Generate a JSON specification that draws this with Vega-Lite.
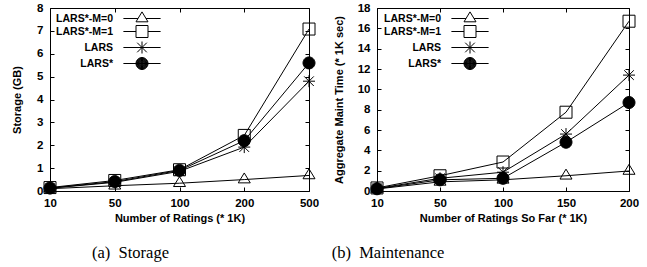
{
  "$schema": "https://vega.github.io/schema/vega-lite/v6.json",
  "background": "white",
  "padding": {"left": 11, "top": 1, "right": 5, "bottom": 5},
  "datasets": {
    "storage": [
      {"ratings": "10", "value": 0.10, "method": "LARS*-M=0"},
      {"ratings": "50", "value": 0.23, "method": "LARS*-M=0"},
      {"ratings": "100", "value": 0.34, "method": "LARS*-M=0"},
      {"ratings": "200", "value": 0.50, "method": "LARS*-M=0"},
      {"ratings": "500", "value": 0.68, "method": "LARS*-M=0"},
      {"ratings": "10", "value": 0.15, "method": "LARS*-M=1"},
      {"ratings": "50", "value": 0.46, "method": "LARS*-M=1"},
      {"ratings": "100", "value": 0.93, "method": "LARS*-M=1"},
      {"ratings": "200", "value": 2.43, "method": "LARS*-M=1"},
      {"ratings": "500", "value": 7.08, "method": "LARS*-M=1"},
      {"ratings": "10", "value": 0.12, "method": "LARS"},
      {"ratings": "50", "value": 0.38, "method": "LARS"},
      {"ratings": "100", "value": 0.86, "method": "LARS"},
      {"ratings": "200", "value": 1.92, "method": "LARS"},
      {"ratings": "500", "value": 4.80, "method": "LARS"},
      {"ratings": "10", "value": 0.13, "method": "LARS*"},
      {"ratings": "50", "value": 0.41, "method": "LARS*"},
      {"ratings": "100", "value": 0.90, "method": "LARS*"},
      {"ratings": "200", "value": 2.20, "method": "LARS*"},
      {"ratings": "500", "value": 5.60, "method": "LARS*"}
    ],
    "maintenance": [
      {"ratings": "10", "value": 0.20, "method": "LARS*-M=0"},
      {"ratings": "50", "value": 0.90, "method": "LARS*-M=0"},
      {"ratings": "100", "value": 1.10, "method": "LARS*-M=0"},
      {"ratings": "150", "value": 1.50, "method": "LARS*-M=0"},
      {"ratings": "200", "value": 1.97, "method": "LARS*-M=0"},
      {"ratings": "10", "value": 0.30, "method": "LARS*-M=1"},
      {"ratings": "50", "value": 1.50, "method": "LARS*-M=1"},
      {"ratings": "100", "value": 2.85, "method": "LARS*-M=1"},
      {"ratings": "150", "value": 7.75, "method": "LARS*-M=1"},
      {"ratings": "200", "value": 16.70, "method": "LARS*-M=1"},
      {"ratings": "10", "value": 0.25, "method": "LARS"},
      {"ratings": "50", "value": 1.25, "method": "LARS"},
      {"ratings": "100", "value": 1.85, "method": "LARS"},
      {"ratings": "150", "value": 5.60, "method": "LARS"},
      {"ratings": "200", "value": 11.40, "method": "LARS"},
      {"ratings": "10", "value": 0.22, "method": "LARS*"},
      {"ratings": "50", "value": 1.10, "method": "LARS*"},
      {"ratings": "100", "value": 1.25, "method": "LARS*"},
      {"ratings": "150", "value": 4.80, "method": "LARS*"},
      {"ratings": "200", "value": 8.70, "method": "LARS*"}
    ]
  },
  "hconcat": [
    {
      "data": {"name": "storage"},
      "width": 259,
      "height": 183,
      "title": {"text": "(a)\u00a0 Storage", "orient": "bottom", "anchor": "middle", "frame": "group", "dx": -49, "offset": 21},
      "layer": [
        {
          "mark": {"type": "line", "color": "black", "strokeWidth": 1},
          "encoding": {
            "x": {"field": "ratings", "type": "ordinal", "scale": {"type": "point", "padding": 0, "domain": ["10", "50", "100", "200", "500"]}, "axis": {"orient": "bottom", "title": "Number of Ratings (* 1K)", "labelAngle": 0, "labelPadding": 10}},
            "y": {"field": "value", "type": "quantitative", "scale": {"domain": [0, 8], "nice": false}, "axis": {"orient": "left", "title": "Storage (GB)", "values": [0, 1, 2, 3, 4, 5, 6, 7, 8], "labelPadding": 11, "titlePadding": 14}},
            "detail": {"field": "method"}
          }
        },
        {
          "mark": {"type": "point", "size": 144, "stroke": "black", "strokeWidth": 1, "opacity": 1, "filled": true},
          "encoding": {
            "x": {"field": "ratings", "type": "ordinal", "axis": {"orient": "top", "labels": false, "title": null}},
            "y": {"field": "value", "type": "quantitative", "axis": {"orient": "right", "labels": false, "title": null, "values": [0, 1, 2, 3, 4, 5, 6, 7, 8]}},
            "shape": {"field": "method", "type": "nominal", "legend": null,
              "scale": {"domain": ["LARS*-M=0", "LARS*-M=1", "LARS", "LARS*"], "range": ["M0,-1.1L1,0.55L-1,0.55Z", "M-1,-1H1V1H-1Z", "M-1,0H1M0,-1V1M-0.8,-0.8L0.8,0.8M-0.8,0.8L0.8,-0.8", "M1,0A1,1,0,1,1,-1,0A1,1,0,1,1,1,0Z"]}},
            "fill": {"field": "method", "type": "nominal", "legend": null,
              "scale": {"domain": ["LARS*-M=0", "LARS*-M=1", "LARS", "LARS*"], "range": ["transparent", "transparent", "transparent", "black"]}}
          }
        },
        {
          "transform": [{"filter": "datum.ratings === 'none'"}],
          "mark": {"type": "point", "size": 144, "stroke": "black", "strokeWidth": 1, "opacity": 1, "filled": false},
          "encoding": {
            "x": {"field": "ratings", "type": "ordinal", "axis": null},
            "y": {"field": "value", "type": "quantitative", "axis": null},
            "shape": {"field": "method", "type": "nominal", "title": "Key",
              "scale": {"domain": ["LARS*-M=0", "LARS*-M=1", "LARS", "LARS*"], "range": ["M-3.1,0H-0.67M0.67,0H3.1M0,-1.1L1,0.55L-1,0.55Z", "M-3.1,0H-1M1,0H3.1M-1,-1H1V1H-1Z", "M-3.1,0H3.1M0,-1V1M-0.8,-0.8L0.8,0.8M-0.8,0.8L0.8,-0.8", "M-3.1,0H3.1M1,0A1,1,0,1,1,-1,0A1,1,0,1,1,1,0ZM0.92,0A0.92,0.92,0,1,1,-0.92,0A0.92,0.92,0,1,1,0.92,0ZM0.84,0A0.84,0.84,0,1,1,-0.84,0A0.84,0.84,0,1,1,0.84,0ZM0.76,0A0.76,0.76,0,1,1,-0.76,0A0.76,0.76,0,1,1,0.76,0ZM0.68,0A0.68,0.68,0,1,1,-0.68,0A0.68,0.68,0,1,1,0.68,0ZM0.6,0A0.6,0.6,0,1,1,-0.6,0A0.6,0.6,0,1,1,0.6,0ZM0.52,0A0.52,0.52,0,1,1,-0.52,0A0.52,0.52,0,1,1,0.52,0ZM0.44,0A0.44,0.44,0,1,1,-0.44,0A0.44,0.44,0,1,1,0.44,0ZM0.36,0A0.36,0.36,0,1,1,-0.36,0A0.36,0.36,0,1,1,0.36,0ZM0.28,0A0.28,0.28,0,1,1,-0.28,0A0.28,0.28,0,1,1,0.28,0ZM0.2,0A0.2,0.2,0,1,1,-0.2,0A0.2,0.2,0,1,1,0.2,0ZM0.12,0A0.12,0.12,0,1,1,-0.12,0A0.12,0.12,0,1,1,0.12,0ZM0.05,0A0.05,0.05,0,1,1,-0.05,0A0.05,0.05,0,1,1,0.05,0Z"]},
              "legend": {
                "title": null, "orient": "top-left", "offset": 4, "padding": 0,
                "labelAlign": "right", "labelOffset": -35.5, "symbolOffset": 81.5, "rowPadding": -1, "symbolSize": 144,
                "symbolOpacity": 1, "symbolStrokeColor": "black", "symbolStrokeWidth": 1
              }
            }
          }
        }
      ],
      "resolve": {"axis": {"x": "independent", "y": "independent"}, "scale": {"shape": "independent"}, "legend": {"shape": "independent"}}
    },
    {
      "data": {"name": "maintenance"},
      "width": 252,
      "height": 183,
      "title": {"text": "(b)\u00a0 Maintenance", "orient": "bottom", "anchor": "middle", "frame": "group", "dx": -115, "offset": 21},
      "layer": [
        {
          "mark": {"type": "line", "color": "black", "strokeWidth": 1},
          "encoding": {
            "x": {"field": "ratings", "type": "ordinal", "scale": {"type": "point", "padding": 0, "domain": ["10", "50", "100", "150", "200"]}, "axis": {"orient": "bottom", "title": "Number of Ratings So Far (* 1K)", "labelAngle": 0, "labelPadding": 10}},
            "y": {"field": "value", "type": "quantitative", "scale": {"domain": [0, 18], "nice": false}, "axis": {"orient": "left", "title": "Aggregate Maint Time (* 1K sec)", "values": [0, 2, 4, 6, 8, 10, 12, 14, 16, 18], "labelPadding": 11, "titlePadding": 13}},
            "detail": {"field": "method"}
          }
        },
        {
          "mark": {"type": "point", "size": 144, "stroke": "black", "strokeWidth": 1, "opacity": 1, "filled": true},
          "encoding": {
            "x": {"field": "ratings", "type": "ordinal", "axis": {"orient": "top", "labels": false, "title": null}},
            "y": {"field": "value", "type": "quantitative", "axis": {"orient": "right", "labels": false, "title": null, "values": [0, 2, 4, 6, 8, 10, 12, 14, 16, 18]}},
            "shape": {"field": "method", "type": "nominal", "legend": null,
              "scale": {"domain": ["LARS*-M=0", "LARS*-M=1", "LARS", "LARS*"], "range": ["M0,-1.1L1,0.55L-1,0.55Z", "M-1,-1H1V1H-1Z", "M-1,0H1M0,-1V1M-0.8,-0.8L0.8,0.8M-0.8,0.8L0.8,-0.8", "M1,0A1,1,0,1,1,-1,0A1,1,0,1,1,1,0Z"]}},
            "fill": {"field": "method", "type": "nominal", "legend": null,
              "scale": {"domain": ["LARS*-M=0", "LARS*-M=1", "LARS", "LARS*"], "range": ["transparent", "transparent", "transparent", "black"]}}
          }
        },
        {
          "transform": [{"filter": "datum.ratings === 'none'"}],
          "mark": {"type": "point", "size": 144, "stroke": "black", "strokeWidth": 1, "opacity": 1, "filled": false},
          "encoding": {
            "x": {"field": "ratings", "type": "ordinal", "axis": null},
            "y": {"field": "value", "type": "quantitative", "axis": null},
            "shape": {"field": "method", "type": "nominal", "title": "Key",
              "scale": {"domain": ["LARS*-M=0", "LARS*-M=1", "LARS", "LARS*"], "range": ["M-3.1,0H-0.67M0.67,0H3.1M0,-1.1L1,0.55L-1,0.55Z", "M-3.1,0H-1M1,0H3.1M-1,-1H1V1H-1Z", "M-3.1,0H3.1M0,-1V1M-0.8,-0.8L0.8,0.8M-0.8,0.8L0.8,-0.8", "M-3.1,0H3.1M1,0A1,1,0,1,1,-1,0A1,1,0,1,1,1,0ZM0.92,0A0.92,0.92,0,1,1,-0.92,0A0.92,0.92,0,1,1,0.92,0ZM0.84,0A0.84,0.84,0,1,1,-0.84,0A0.84,0.84,0,1,1,0.84,0ZM0.76,0A0.76,0.76,0,1,1,-0.76,0A0.76,0.76,0,1,1,0.76,0ZM0.68,0A0.68,0.68,0,1,1,-0.68,0A0.68,0.68,0,1,1,0.68,0ZM0.6,0A0.6,0.6,0,1,1,-0.6,0A0.6,0.6,0,1,1,0.6,0ZM0.52,0A0.52,0.52,0,1,1,-0.52,0A0.52,0.52,0,1,1,0.52,0ZM0.44,0A0.44,0.44,0,1,1,-0.44,0A0.44,0.44,0,1,1,0.44,0ZM0.36,0A0.36,0.36,0,1,1,-0.36,0A0.36,0.36,0,1,1,0.36,0ZM0.28,0A0.28,0.28,0,1,1,-0.28,0A0.28,0.28,0,1,1,0.28,0ZM0.2,0A0.2,0.2,0,1,1,-0.2,0A0.2,0.2,0,1,1,0.2,0ZM0.12,0A0.12,0.12,0,1,1,-0.12,0A0.12,0.12,0,1,1,0.12,0ZM0.05,0A0.05,0.05,0,1,1,-0.05,0A0.05,0.05,0,1,1,0.05,0Z"]},
              "legend": {
                "title": null, "orient": "top-left", "offset": 4, "padding": 0,
                "labelAlign": "right", "labelOffset": -35.5, "symbolOffset": 82.5, "rowPadding": -1, "symbolSize": 144,
                "symbolOpacity": 1, "symbolStrokeColor": "black", "symbolStrokeWidth": 1
              }
            }
          }
        }
      ],
      "resolve": {"axis": {"x": "independent", "y": "independent"}, "scale": {"shape": "independent"}, "legend": {"shape": "independent"}}
    }
  ],
  "spacing": 11,
  "resolve": {"scale": {"shape": "independent", "fill": "independent"}, "legend": {"shape": "independent", "fill": "independent"}},
  "config": {
    "font": "Liberation Sans",
    "view": {"stroke": "black", "strokeWidth": 1},
    "axis": {"grid": false, "domain": false, "tickColor": "black", "tickSize": -4, "tickWidth": 1,
      "labelFont": "Liberation Sans", "labelFontWeight": "bold", "labelFontSize": 11.5, "labelColor": "black",
      "titleFont": "Liberation Sans", "titleFontWeight": "bold", "titleFontSize": 11, "titleColor": "black"},
    "legend": {"labelFont": "Liberation Sans", "labelFontWeight": "bold", "labelFontSize": 10.5, "labelColor": "black"},
    "title": {"font": "Liberation Serif", "fontSize": 16.5, "fontWeight": "normal", "color": "black"}
  }
}
